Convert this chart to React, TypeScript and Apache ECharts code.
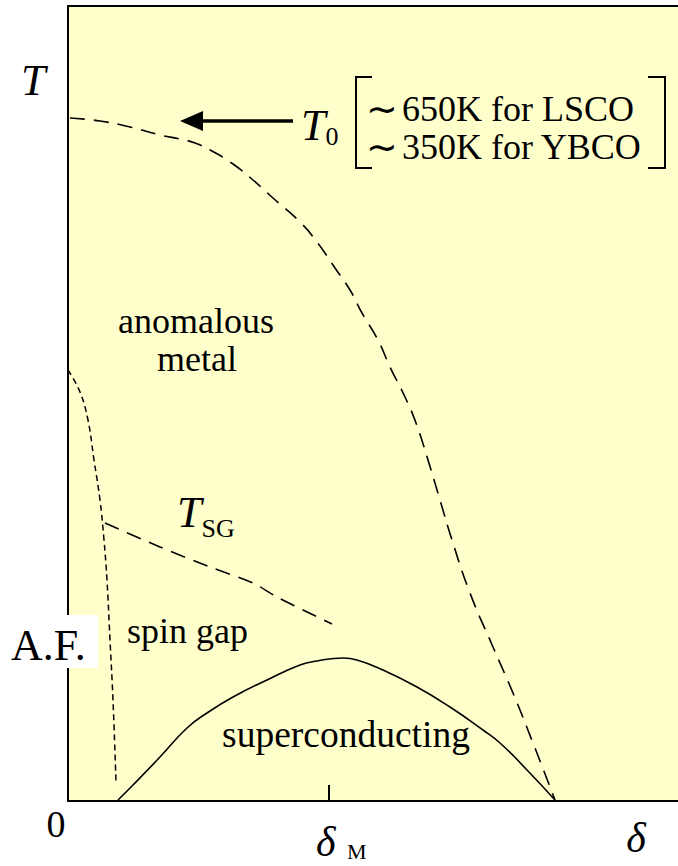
import React, { useEffect, useRef } from "react";
import * as echarts from "echarts";

// Schematic phase diagram. x = doping δ (arbitrary units), y = temperature T (arbitrary units)
const t0Delta = [2, 32, 62, 92, 112, 127, 144, 165, 185, 205, 232, 249, 267, 282, 294, 310, 322, 337, 348, 360, 372, 384, 402, 425, 445, 465, 487];
const t0Temp = [683, 680, 674, 666, 662, 658, 650, 637, 621, 603, 579, 559, 533, 511, 488, 461, 434, 404, 378, 341, 301, 261, 208, 154, 108, 58, 1];

const afDelta = [0, 12, 20, 26, 32, 36, 39, 42, 45, 48];
const afTemp = [431, 409, 381, 341, 301, 261, 221, 161, 101, 19];

const tsgDelta = [37, 92, 142, 185, 209, 264];
const tsgTemp = [278, 254, 234, 218, 204, 177];

const scDelta = [50, 65, 92, 119, 139, 165, 199, 232, 249, 275, 289, 315, 349, 382, 415, 432, 459, 487];
const scTemp = [1, 16, 44, 73, 88, 104, 121, 136, 140, 143, 141, 131, 114, 94, 71, 58, 31, 1];

const deltaM = 261;
const xMax = 610;
const yMax = 795;

const zip = (xs: number[], ys: number[]) => xs.map((x, i) => [x, ys[i]]);

const SERIF = "'Liberation Serif', 'Times New Roman', serif";

export default function App() {
  const ref = useRef<HTMLDivElement>(null);
  useEffect(() => {
    if (!ref.current) return;
    const chart = echarts.init(ref.current, undefined, { renderer: "svg" });
    const txt = (text: string, x: number, y: number, fontSize: number, opts: any = {}) => ({
      type: "text",
      x,
      y,
      z: 100,
      style: {
        text,
        fontFamily: SERIF,
        fontSize,
        fill: "#000",
        align: opts.align || "left",
        verticalAlign: "middle",
        fontStyle: opts.italic ? "italic" : "normal",
        lineHeight: opts.lineHeight,
        rich: opts.rich,
      },
    });
    // main italic symbol with a subscript (rich text)
    const sub = (
      main: string,
      subTxt: string,
      x: number,
      y: number,
      mainSize: number,
      mainWidth: number | undefined,
      subSize: number,
      subH: number
    ) =>
      txt(`{m|${main}}{s|${subTxt}}`, x, y, mainSize, {
        rich: {
          m: { fontFamily: SERIF, fontSize: mainSize, fontStyle: "italic", lineHeight: mainSize, width: mainWidth, fill: "#000" },
          s: { fontFamily: SERIF, fontSize: subSize, height: subH, lineHeight: subH, verticalAlign: "bottom", fill: "#000" },
        },
      });
    const tildeLine = (rest: string, y: number) =>
      txt(`{t|∼}{n|${rest}}`, 366, y, 36, {
        rich: {
          t: { fontFamily: SERIF, fontSize: 38, lineHeight: 36, width: 36, fill: "#000" },
          n: { fontFamily: SERIF, fontSize: 36, lineHeight: 36, fill: "#000" },
        },
      });
    chart.setOption({
      animation: false,
      grid: {
        left: 68,
        right: 0,
        top: 6,
        bottom: 65,
        show: true,
        backgroundColor: "#FFFFCC",
        borderWidth: 0,
      },
      xAxis: [
        {
          type: "value",
          min: 0,
          max: xMax,
          axisLine: { show: true, lineStyle: { color: "#000", width: 2 } },
          axisTick: {
            show: true,
            inside: true,
            length: 16,
            customValues: [deltaM],
            lineStyle: { color: "#000", width: 2 },
          },
          axisLabel: { show: false },
          splitLine: { show: false },
        },
        {
          type: "value",
          position: "top",
          min: 0,
          max: xMax,
          axisLine: { show: true, lineStyle: { color: "#000", width: 2 } },
          axisTick: { show: false },
          axisLabel: { show: false },
          splitLine: { show: false },
        },
      ],
      yAxis: {
        type: "value",
        min: 0,
        max: yMax,
        axisLine: { show: true, lineStyle: { color: "#000", width: 2 } },
        axisTick: { show: false },
        axisLabel: { show: false },
        splitLine: { show: false },
      },
      series: [
        {
          type: "line",
          name: "T0",
          data: zip(t0Delta, t0Temp),
          showSymbol: false,
          smooth: 0.5,
          lineStyle: { color: "#000", width: 1.6, type: [15, 9] },
        },
        {
          type: "line",
          name: "AF",
          data: zip(afDelta, afTemp),
          showSymbol: false,
          smooth: 0.4,
          lineStyle: { color: "#000", width: 1.5, type: [6, 4] },
        },
        {
          type: "line",
          name: "TSG",
          data: zip(tsgDelta, tsgTemp),
          showSymbol: false,
          smooth: 0.3,
          lineStyle: { color: "#000", width: 1.6, type: [15, 9] },
        },
        {
          type: "line",
          name: "Tc",
          data: zip(scDelta, scTemp),
          showSymbol: false,
          smooth: 0.5,
          lineStyle: { color: "#000", width: 1.6, type: "solid" },
        },
      ],
      graphic: [
        // arrow
        { type: "line", z: 100, shape: { x1: 200, y1: 121, x2: 293, y2: 121 }, style: { stroke: "#000", lineWidth: 3.5 } },
        { type: "polygon", z: 100, shape: { points: [[180, 121], [203, 111], [203, 131]] }, style: { fill: "#000" } },
        // brackets
        { type: "polyline", z: 100, shape: { points: [[372, 77], [356, 77], [356, 168], [372, 168]] }, style: { stroke: "#000", lineWidth: 2, fill: null } },
        { type: "polyline", z: 100, shape: { points: [[648, 77], [665, 77], [665, 168], [648, 168]] }, style: { stroke: "#000", lineWidth: 2, fill: null } },
        // A.F. white box
        { type: "rect", z: 90, shape: { x: 0, y: 615, width: 98, height: 53 }, style: { fill: "#fff" } },
        txt("T", 21, 80, 44, { italic: true }),
        sub("T", "0", 301, 125, 44, undefined, 26, 22),
        tildeLine("650K for LSCO", 109),
        tildeLine("350K for YBCO", 147),
        txt("anomalous", 196, 321, 36, { align: "center" }),
        txt("metal", 197, 359, 36, { align: "center" }),
        sub("T", "SG", 177, 512, 44, undefined, 26, 12),
        txt("spin gap", 127, 631, 36),
        txt("A.F.", 11, 645, 44),
        txt("superconducting", 346, 734, 37.5, { align: "center" }),
        txt("0", 56, 824, 38, { align: "center" }),
        sub("δ", "M", 316, 842, 42, 31, 22, 24),
        txt("δ", 636, 838, 42, { italic: true, align: "center" }),
      ],
    });
    return () => chart.dispose();
  }, []);
  return (
    <div
      ref={ref}
      style={{ position: "fixed", left: 0, top: 0, width: 678, height: 866, background: "#fff" }}
    />
  );
}
